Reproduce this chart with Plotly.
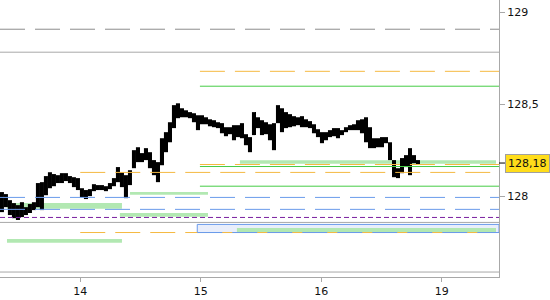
import plotly.graph_objects as go

# ---- data ----
day_ticks = [0, 1, 2, 3]
day_labels = ["14", "15", "16", "19"]

bar_start = -0.65
bar_step = 0.0332

bar_high = [128.022, 128.011, 127.978, 127.962, 127.951, 127.967, 127.940, 127.957, 127.967, 128.071,
            128.076, 128.109, 128.130, 128.120, 128.114, 128.125, 128.125, 128.109, 128.103, 128.098,
            128.043, 128.033, 128.038, 128.065, 128.060, 128.060, 128.054, 128.071, 128.098, 128.158,
            128.130, 128.114, 128.141, 128.250, 128.266, 128.234, 128.261, 128.239, 128.196, 128.185,
            128.315, 128.348, 128.402, 128.495, 128.505, 128.478, 128.467, 128.457, 128.451, 128.440,
            128.440, 128.429, 128.418, 128.413, 128.402, 128.397, 128.375, 128.375, 128.386, 128.386,
            128.397, 128.337, 128.321, 128.457, 128.429, 128.413, 128.402, 128.391, 128.397, 128.495,
            128.478, 128.457, 128.446, 128.435, 128.429, 128.435, 128.418, 128.408, 128.391, 128.364,
            128.348, 128.348, 128.359, 128.370, 128.370, 128.359, 128.375, 128.386, 128.391, 128.413,
            128.418, 128.429, 128.375, 128.315, 128.315, 128.321, 128.321, 128.293, 128.196, 128.152,
            128.207, 128.223, 128.261, 128.223, 128.196]
bar_low = [127.913, 127.940, 127.897, 127.880, 127.870, 127.886, 127.897, 127.908, 127.924, 127.940,
           127.924, 128.005, 128.043, 128.054, 128.071, 128.071, 128.082, 128.071, 128.049, 128.033,
           127.995, 127.984, 128.000, 128.027, 128.033, 128.033, 128.027, 128.038, 128.054, 128.076,
           128.049, 127.989, 128.060, 128.152, 128.185, 128.185, 128.196, 128.152, 128.114, 128.076,
           128.168, 128.239, 128.293, 128.370, 128.424, 128.429, 128.429, 128.424, 128.402, 128.359,
           128.391, 128.391, 128.380, 128.375, 128.370, 128.342, 128.326, 128.337, 128.304, 128.321,
           128.315, 128.277, 128.239, 128.332, 128.370, 128.332, 128.337, 128.304, 128.250, 128.397,
           128.348, 128.370, 128.375, 128.380, 128.386, 128.375, 128.375, 128.370, 128.342, 128.321,
           128.288, 128.304, 128.321, 128.326, 128.315, 128.332, 128.348, 128.359, 128.359, 128.359,
           128.342, 128.293, 128.261, 128.261, 128.266, 128.266, 128.288, 128.196, 128.103, 128.098,
           128.125, 128.158, 128.114, 128.179, 128.174]

last_price = 128.18

# level lines: (value, x start, style)
level_values = [128.908, 128.783, 128.679, 128.598, 128.172, 128.161, 128.129, 128.054,
                127.993, 127.928, 127.884, 127.857, 127.802, 127.802, 127.587]
level_starts = [None, None, 0.993, 0.993, 0.993, 0.993, 0.0, 0.993,
                None, None, None, None, 0.0, 0.971, None]
level_styles = ["gray_dash", "gray", "orange_dash", "green", "orange_dash", "green", "orange_dash", "green",
                "blue_dash", "blue_dash", "purple_dot", "gray", "orange_dash", "blue_dash", "gray"]

# light green zones: (value, x start, x end, thickness in price)
zone_values = [128.186, 128.015, 127.947, 127.898, 127.815, 127.757]
zone_x0 = [1.325, 0.413, -0.608, 0.329, 1.300, -0.608]
zone_x1 = [3.450, 1.060, 0.346, 1.060, 3.450, 0.346]
zone_thick = [0.019, 0.014, 0.032, 0.020, 0.022, 0.020]

box_y0, box_y1, box_x0 = 127.802, 127.846, 0.971

x_min, x_max = -0.666, 3.475
y_min, y_max = 127.56, 129.067

styles = {
    "gray_dash": dict(color="#8c8c8c", width=1, dash="25px,10px"),
    "gray": dict(color="#a8a8a8", width=1),
    "orange_dash": dict(color="#F5B942", width=1, dash="25px,10px"),
    "green": dict(color="#46CC46", width=1),
    "blue_dash": dict(color="#6A9BEB", width=1, dash="25px,10px"),
    "purple_dot": dict(color="#7A1FA0", width=1, dash="5px,3px"),
}

bar_x = [bar_start + i * bar_step for i in range(len(bar_high))]

fig = go.Figure()
fig.add_trace(go.Bar(
    x=bar_x,
    y=[h - l for h, l in zip(bar_high, bar_low)],
    base=bar_low,
    width=0.0336,
    marker=dict(color="black", line=dict(width=0)),
    hoverinfo="skip",
))

shapes = []
# zones below
for v, a, b, t in zip(zone_values, zone_x0, zone_x1, zone_thick):
    shapes.append(dict(type="rect", xref="x", yref="y", x0=a, x1=b, y0=v - t / 2, y1=v + t / 2,
                       fillcolor="#B2E8B2", line=dict(width=0), layer="below"))
# blue box
shapes.append(dict(type="rect", xref="x", yref="y", x0=box_x0, x1=x_max, y0=box_y0, y1=box_y1,
                   fillcolor="#E9EEFB", line=dict(color="#6A9BEB", width=1), layer="below"))
# redraw the zone inside the box on top of the box fill
shapes.append(dict(type="rect", xref="x", yref="y", x0=zone_x0[4], x1=zone_x1[4],
                   y0=zone_values[4] - zone_thick[4] / 2, y1=zone_values[4] + zone_thick[4] / 2,
                   fillcolor="#B2E8B2", line=dict(width=0), layer="below"))
# level lines
for v, s, st in zip(level_values, level_starts, level_styles):
    shapes.append(dict(type="line", xref="x", yref="y", x0=x_min if s is None else s, x1=x_max,
                       y0=v, y1=v, line=styles[st], layer="above"))
# last price tick
shapes.append(dict(type="line", xref="paper", yref="y", x0=1, x1=1.012, y0=last_price, y1=last_price,
                   line=dict(color="black", width=1)))

fig.update_layout(
    width=550, height=300,
    margin=dict(l=0, r=51, t=0, b=23),
    paper_bgcolor="white", plot_bgcolor="white",
    showlegend=False,
    separators=", ",
    font=dict(family="DejaVu Sans", size=11, color="#111"),
    shapes=shapes,
    annotations=[dict(
        x=1, xref="paper", xanchor="left", xshift=6,
        y=last_price, yref="y", yanchor="middle",
        text="128,18", showarrow=False,
        bgcolor="#FFDD1A", bordercolor="#A0A0A0", borderwidth=1, borderpad=2,
        font=dict(family="DejaVu Sans", size=11, color="#111"),
    )],
    xaxis=dict(
        range=[x_min, x_max], tickvals=day_ticks, ticktext=day_labels,
        showgrid=False, zeroline=False, showline=True, linecolor="#a8a8a8", linewidth=1,
        ticks="outside", ticklen=4, tickcolor="#a8a8a8", mirror=False,
    ),
    yaxis=dict(
        range=[y_min, y_max], side="right", tickvals=[128, 128.5, 129],
        ticktext=["128", "128,5", "129"],
        showgrid=False, zeroline=False, showline=True, linecolor="#a8a8a8", linewidth=1,
        ticks="outside", ticklen=5, tickcolor="#a8a8a8",
    ),
)

fig.write_html("out.html")
